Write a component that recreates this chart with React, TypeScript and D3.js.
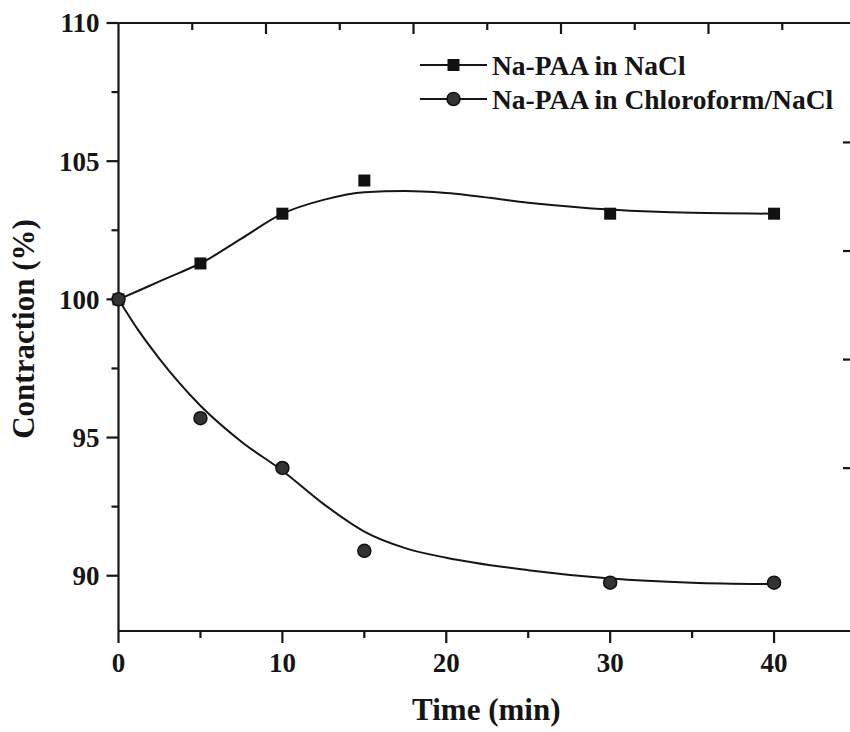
import * as d3 from 'd3';

// measured points
const timeMin = [0, 5, 10, 15, 30, 40];
const naclValues = [100, 101.3, 103.1, 104.3, 103.1, 103.1];
const chloroValues = [100, 95.7, 93.9, 90.9, 89.75, 89.75];

// fitted curves
const fitTime = [0, 1.25, 2.5, 3.75, 5, 7.5, 10, 12.5, 15, 17.5, 20, 25, 30, 35, 40];
const naclFit = [100, 100.32, 100.65, 100.97, 101.3, 102.2, 103.1, 103.6, 103.88, 103.92, 103.85, 103.5, 103.25, 103.13, 103.1];
const chloroFit = [100, 98.85, 97.85, 96.95, 96.15, 94.85, 93.8, 92.6, 91.6, 91.0, 90.65, 90.2, 89.9, 89.75, 89.7];

const xMajor = [0, 10, 20, 30, 40];
const xMinor = [5, 15, 25, 35];
const yMajor = [90, 95, 100, 105, 110];
const yMinor = [92.5, 97.5, 102.5, 107.5];
const topMajor = [10, 20, 30, 40];
const topMinor = [5, 15, 25, 35, 45];
const rightTicks = [5, 10, 15, 20];

const seriesNames = ['Na-PAA in NaCl', 'Na-PAA in Chloroform/NaCl'];

const W = 850;
const H = 732;
const FONT = '"Liberation Serif", "Times New Roman", serif';
const INK = '#151515';

export default function App() {
    const x = d3.scaleLinear().domain([0, 45]).range([118.5, 856]);
    const y = d3.scaleLinear().domain([88, 110]).range([631, 23]);
    // top and right frames carry their own (mismatched) tick spacing in the original
    const xTop = d3.scaleLinear().domain([0, 50]).range(x.range());
    const yRight = d3.scaleLinear().domain([-2.5, 25.5]).range(y.range());

    const [x0, x1] = x.range();
    const [yB, yT] = y.range();

    const line = d3
        .line<number>()
        .x((_, i) => x(fitTime[i]))
        .y((d) => y(d))
        .curve(d3.curveMonotoneX);

    const sq = 12;
    const r = 6.5;

    const legendX0 = 420;
    const legendX1 = 487;
    const legendRows = [65, 99];

    return (
        <svg
            width={W}
            height={H}
            style={{ position: 'absolute', left: 0, top: 0, background: '#fff' }}
            fontFamily={FONT}
            fontWeight="bold"
        >
            <rect width={W} height={H} fill="#fff" />

            {/* frame */}
            <g stroke={INK} strokeWidth={2.2} fill="none">
                <line x1={x0} x2={x1} y1={yB} y2={yB} />
                <line x1={x0} x2={x1} y1={yT} y2={yT} />
                <line x1={x0} x2={x0} y1={yT} y2={yB} />
                <line x1={x1} x2={x1} y1={yT} y2={yB} />
            </g>

            {/* ticks: bottom/left outward, top/right inward */}
            <g stroke={INK} strokeWidth={2.2}>
                {xMajor.map((t) => (
                    <line key={'bx' + t} x1={x(t)} x2={x(t)} y1={yB} y2={yB + 12} />
                ))}
                {xMinor.map((t) => (
                    <line key={'bm' + t} x1={x(t)} x2={x(t)} y1={yB} y2={yB + 7} />
                ))}
                {yMajor.map((t) => (
                    <line key={'ly' + t} x1={x0 - 12} x2={x0} y1={y(t)} y2={y(t)} />
                ))}
                {yMinor.map((t) => (
                    <line key={'lm' + t} x1={x0 - 7} x2={x0} y1={y(t)} y2={y(t)} />
                ))}
                {topMajor.map((t) => (
                    <line key={'tx' + t} x1={xTop(t)} x2={xTop(t)} y1={yT} y2={yT + 11} />
                ))}
                {topMinor.map((t) => (
                    <line key={'tm' + t} x1={xTop(t)} x2={xTop(t)} y1={yT} y2={yT + 7} />
                ))}
                {rightTicks.map((t) => (
                    <line key={'ry' + t} x1={x1 - 13} x2={x1} y1={yRight(t)} y2={yRight(t)} />
                ))}
            </g>

            {/* tick labels */}
            <g fill={INK} fontSize={27}>
                {xMajor.map((t) => (
                    <text key={'xl' + t} x={x(t)} y={yB + 41} textAnchor="middle">
                        {t}
                    </text>
                ))}
                {yMajor.map((t) => (
                    <text key={'yl' + t} x={x0 - 19} y={y(t)} dy="0.35em" textAnchor="end">
                        {t}
                    </text>
                ))}
            </g>

            {/* axis titles */}
            <text x={(x(0) + x(40)) / 2 + 40} y={720} textAnchor="middle" fontSize={31} fill={INK}>
                Time (min)
            </text>
            <text
                transform={`translate(34, ${(yT + yB) / 2 + 2}) rotate(-90)`}
                textAnchor="middle"
                fontSize={31}
                fill={INK}
            >
                Contraction (%)
            </text>

            {/* fitted curves */}
            <path d={line(naclFit) ?? ''} fill="none" stroke={INK} strokeWidth={2} />
            <path d={line(chloroFit) ?? ''} fill="none" stroke={INK} strokeWidth={2} />

            {/* markers */}
            {timeMin.map((t, i) => (
                <rect
                    key={'s' + t}
                    x={x(t) - sq / 2}
                    y={y(naclValues[i]) - sq / 2}
                    width={sq}
                    height={sq}
                    fill="#111"
                />
            ))}
            {timeMin.map((t, i) => (
                <circle
                    key={'c' + t}
                    cx={x(t)}
                    cy={y(chloroValues[i])}
                    r={r}
                    fill="#333"
                    stroke="#111"
                    strokeWidth={1.5}
                />
            ))}

            {/* legend */}
            <g>
                {seriesNames.map((name, i) => {
                    const ly = legendRows[i];
                    const mx = (legendX0 + legendX1) / 2;
                    return (
                        <g key={name}>
                            <line x1={legendX0} x2={legendX1} y1={ly} y2={ly} stroke={INK} strokeWidth={2} />
                            {i === 0 ? (
                                <rect x={mx - sq / 2} y={ly - sq / 2} width={sq} height={sq} fill="#111" />
                            ) : (
                                <circle cx={mx} cy={ly} r={r} fill="#333" stroke="#111" strokeWidth={1.5} />
                            )}
                            <text x={legendX1 + 5} y={ly} dy="0.35em" fontSize={27.5} fill={INK}>
                                {name}
                            </text>
                        </g>
                    );
                })}
            </g>
        </svg>
    );
}
